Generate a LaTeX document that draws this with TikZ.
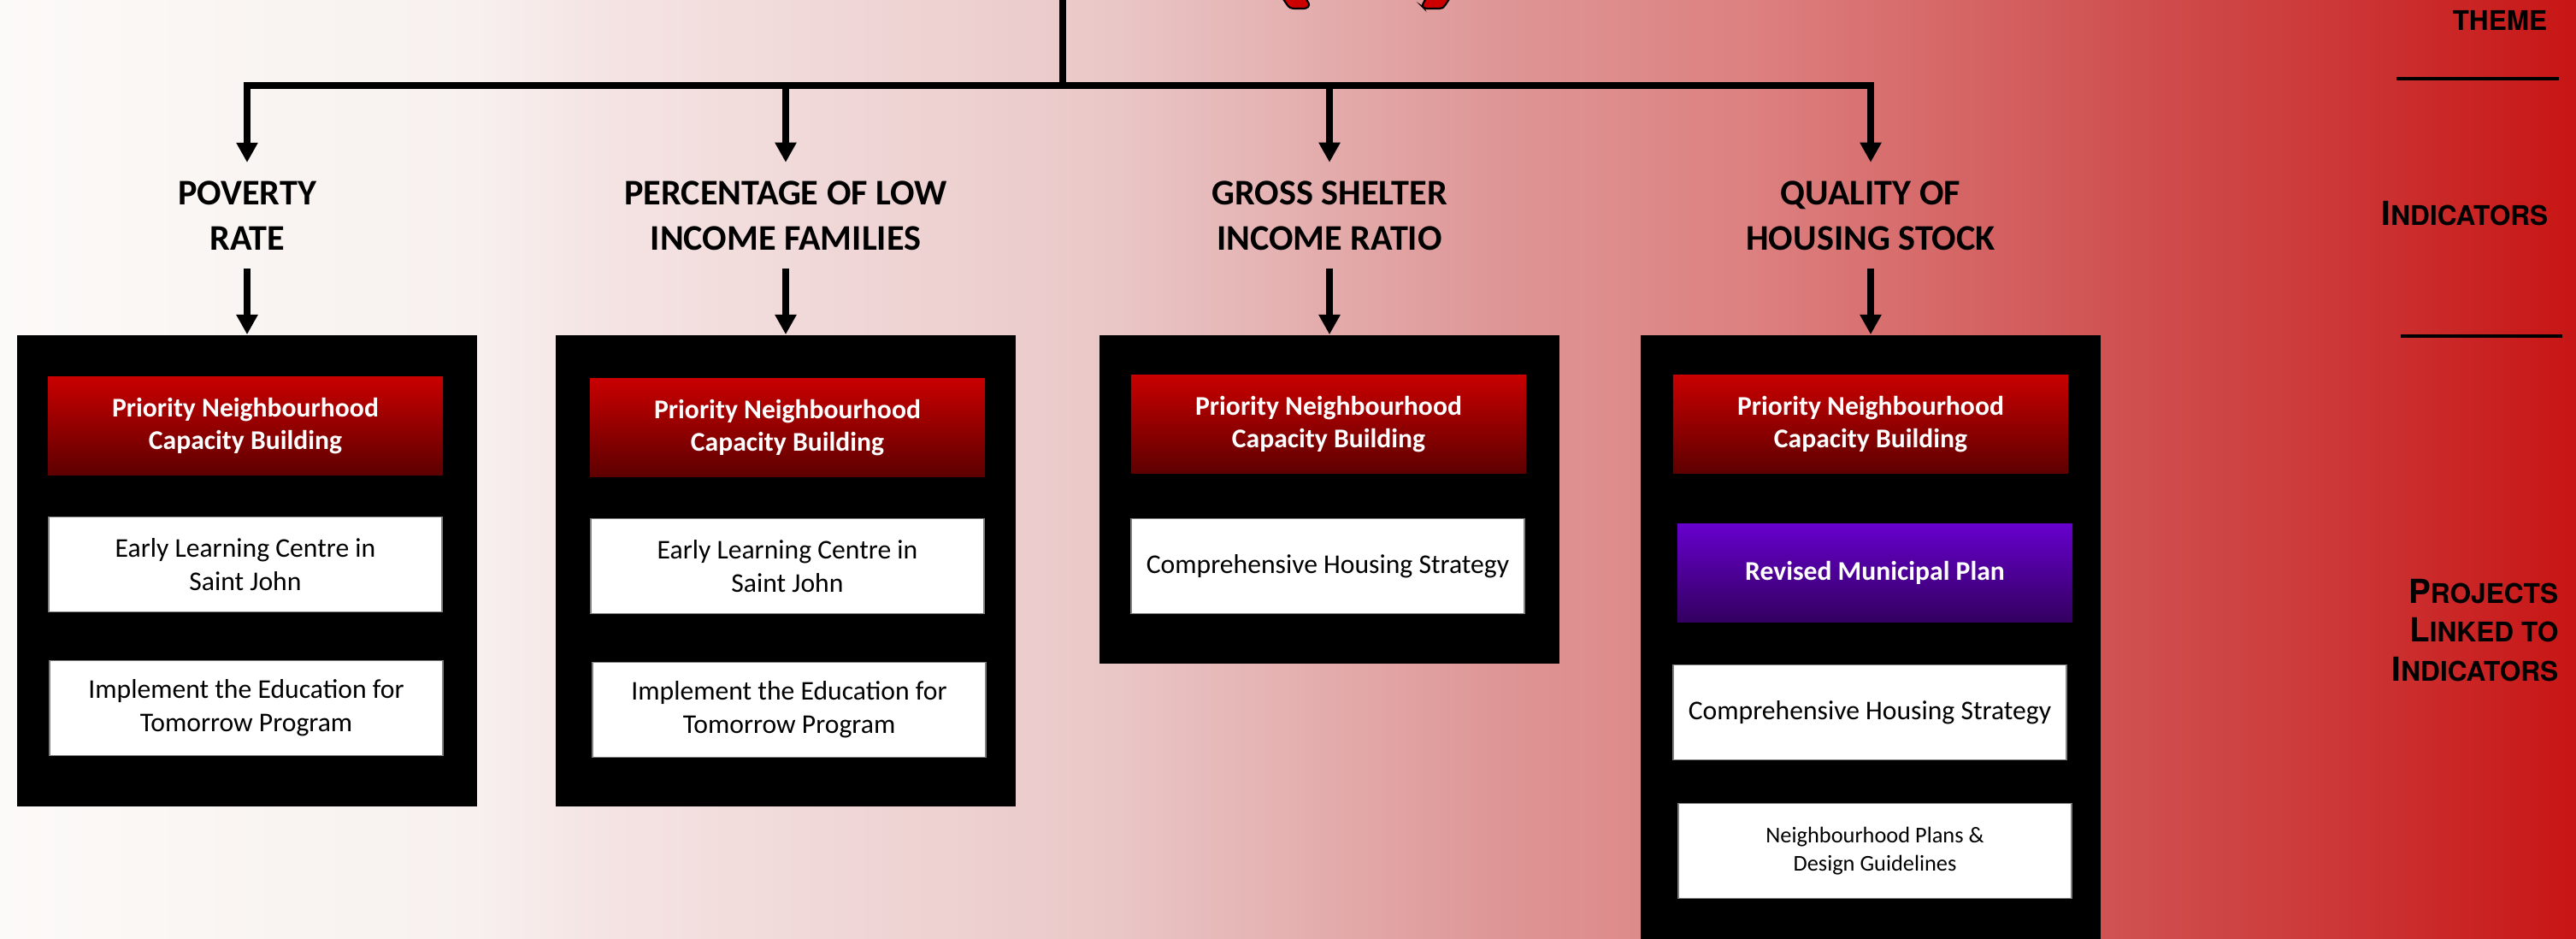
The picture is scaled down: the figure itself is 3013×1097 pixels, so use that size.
\documentclass[tikz,border=0pt]{standalone}
\usepackage{fontspec}
\setmainfont{Carlito}
\newfontfamily\sidefont{TeX Gyre Heros}
\usepackage{tikz}
\usetikzlibrary{arrows.meta}

\definecolor{hdrtop}{HTML}{C80000}
\definecolor{hdrbot}{HTML}{5E0000}
\definecolor{plntop}{HTML}{6600CC}
\definecolor{plnbot}{HTML}{330060}
\definecolor{bgA}{HTML}{FCFAF8}
\definecolor{bgB}{HTML}{F7F0EE}
\definecolor{bgC}{HTML}{F5E4E4}
\definecolor{bgD}{HTML}{EDCFCF}
\definecolor{bgE}{HTML}{EAC7C7}
\definecolor{bgF}{HTML}{DE9696}
\definecolor{bgG}{HTML}{DD8080}
\definecolor{bgH}{HTML}{D05454}
\definecolor{bgI}{HTML}{CC3535}
\definecolor{bgJ}{HTML}{C81515}
\definecolor{logored}{HTML}{CC0000}

% big first letter, small caps for the rest
\newcommand{\capword}[2]{{\fontsize{11}{13}\selectfont #1}{\fontsize{9}{13}\selectfont #2}}

\tikzset{
    indicator/.style={font=\bfseries\fontsize{12}{15}\selectfont, align=center,
        inner xsep=0pt, inner ysep=6pt},
    panel/.style={fill=black, minimum width=5.38cm, inner sep=0pt},
    header/.style={top color=hdrtop, bottom color=hdrbot, text=white,
        font=\bfseries\fontsize{9}{11}\selectfont, align=center,
        minimum width=4.62cm, minimum height=1.14cm, inner sep=0pt},
    plan/.style={header, top color=plntop, bottom color=plnbot},
    project/.style={fill=white, draw=gray, line width=0.5pt,
        font=\fontsize{9}{11}\selectfont, align=center,
        minimum width=4.6cm, minimum height=1.11cm, inner sep=0pt},
    link/.style={line width=2.1pt, -{Triangle[length=6.6pt,width=6.8pt]}},
    sideline/.style={line width=1.3pt},
    sidelabel/.style={font=\sidefont\bfseries\fontsize{11}{13}\selectfont,
        align=right, inner sep=0pt}
}

\begin{document}
\begin{tikzpicture}[x=0.01cm, y=-0.01cm]
    \useasboundingbox (0,0) rectangle (3013,1097);
    % background
    \shade[left color=bgA, right color=bgB] (0,0) rectangle (561,1097);
    \shade[left color=bgB, right color=bgC] (560,0) rectangle (701,1097);
    \shade[left color=bgC, right color=bgD] (700,0) rectangle (1151,1097);
    \shade[left color=bgD, right color=bgE] (1150,0) rectangle (1301,1097);
    \shade[left color=bgE, right color=bgF] (1300,0) rectangle (1751,1097);
    \shade[left color=bgF, right color=bgG] (1750,0) rectangle (2051,1097);
    \shade[left color=bgG, right color=bgH] (2050,0) rectangle (2451,1097);
    \shade[left color=bgH, right color=bgI] (2450,0) rectangle (2751,1097);
    \shade[left color=bgI, right color=bgJ] (2750,0) rectangle (3013,1097);

    % cut off shapes at the top
    \draw[fill=logored, line width=0.6pt, rounded corners=0.8pt]
        (1499,-4) -- (1507,8) -- (1511,10) -- (1528,10) -- (1532,6) -- (1526,-4) -- cycle;
    \draw[fill=logored, line width=0.6pt, rounded corners=0.8pt]
        (1669,-4) -- (1663,7) -- (1666,10) -- (1686,10) -- (1689,8) -- (1697,-4) -- cycle;

    % side labels
    \node[sidelabel, anchor=base east] (theme) at (2980,36)
        {\fontsize{9}{13}\selectfont THEME};
    \node[sidelabel, anchor=base east] (indic) at (2981,263)
        {\capword{I}{NDICATORS}};
    \node[sidelabel, anchor=east] (projects) at (2993,737)
        {\capword{P}{ROJECTS}\\ \capword{L}{INKED TO}\\ \capword{I}{NDICATORS}};
    \coordinate (r1a) at (2803,92);
    \coordinate (r1b) at (2993,92);
    \coordinate (r2a) at (2808,393);
    \coordinate (r2b) at (2997,393);
    \draw[sideline] (r1a) -- (r1b);
    \draw[sideline] (r2a) -- (r2b);

    % tree
    \coordinate (stem) at (1243,-10);
    \coordinate (fork) at (1243,100);
    \coordinate (bar1) at (289,100);
    \coordinate (bar2) at (919,100);
    \coordinate (bar3) at (1555,100);
    \coordinate (bar4) at (2188,100);
    \draw[line width=2.1pt] (stem) -- (fork);
    \draw[line width=2.1pt, line cap=rect] (bar1) -- (bar4);

    \node[indicator] (poverty) at (289,252) {POVERTY\\RATE};
    \node[indicator] (lowincome) at (919,252) {PERCENTAGE OF LOW\\INCOME FAMILIES};
    \node[indicator] (shelter) at (1555,252) {GROSS SHELTER\\INCOME RATIO};
    \node[indicator] (housing) at (2188,252) {QUALITY OF\\HOUSING STOCK};

    \node[panel, minimum height=5.51cm] (box1) at (289,667.5) {};
    \node[panel, minimum height=5.51cm] (box2) at (919,667.5) {};
    \node[panel, minimum height=3.84cm] (box3) at (1555,584) {};
    \node[panel, minimum height=7.2cm] (box4) at (2188,752) {};

    % draw arrows
    \draw[link] (bar1) -- (poverty);
    \draw[link] (bar2) -- (lowincome);
    \draw[link] (bar3) -- (shelter);
    \draw[link] (bar4) -- (housing);
    \draw[link] (poverty) -- (box1);
    \draw[link] (lowincome) -- (box2);
    \draw[link] (shelter) -- (box3);
    \draw[link] (housing) -- (box4);

    % projects in each box
    \node[header] (pnc1) at (287,498) {Priority Neighbourhood\\Capacity Building};
    \node[project] (elc1) at (287,660) {Early Learning Centre in\\Saint John};
    \node[project] (eft1) at (288,828) {Implement the Education for\\Tomorrow Program};

    \node[header] (pnc2) at (921,500) {Priority Neighbourhood\\Capacity Building};
    \node[project] (elc2) at (921,662) {Early Learning Centre in\\Saint John};
    \node[project] (eft2) at (923,830) {Implement the Education for\\Tomorrow Program};

    \node[header] (pnc3) at (1554,496) {Priority Neighbourhood\\Capacity Building};
    \node[project] (chs3) at (1553,662) {Comprehensive Housing Strategy};

    \node[header] (pnc4) at (2188,496) {Priority Neighbourhood\\Capacity Building};
    \node[plan] (rmp4) at (2193,670) {Revised Municipal Plan};
    \node[project] (chs4) at (2187,833) {Comprehensive Housing Strategy};
    \node[project, font=\fontsize{7.5}{9.5}\selectfont] (npd4) at (2193,995)
        {Neighbourhood Plans \&\\Design Guidelines};
\end{tikzpicture}
\end{document}
